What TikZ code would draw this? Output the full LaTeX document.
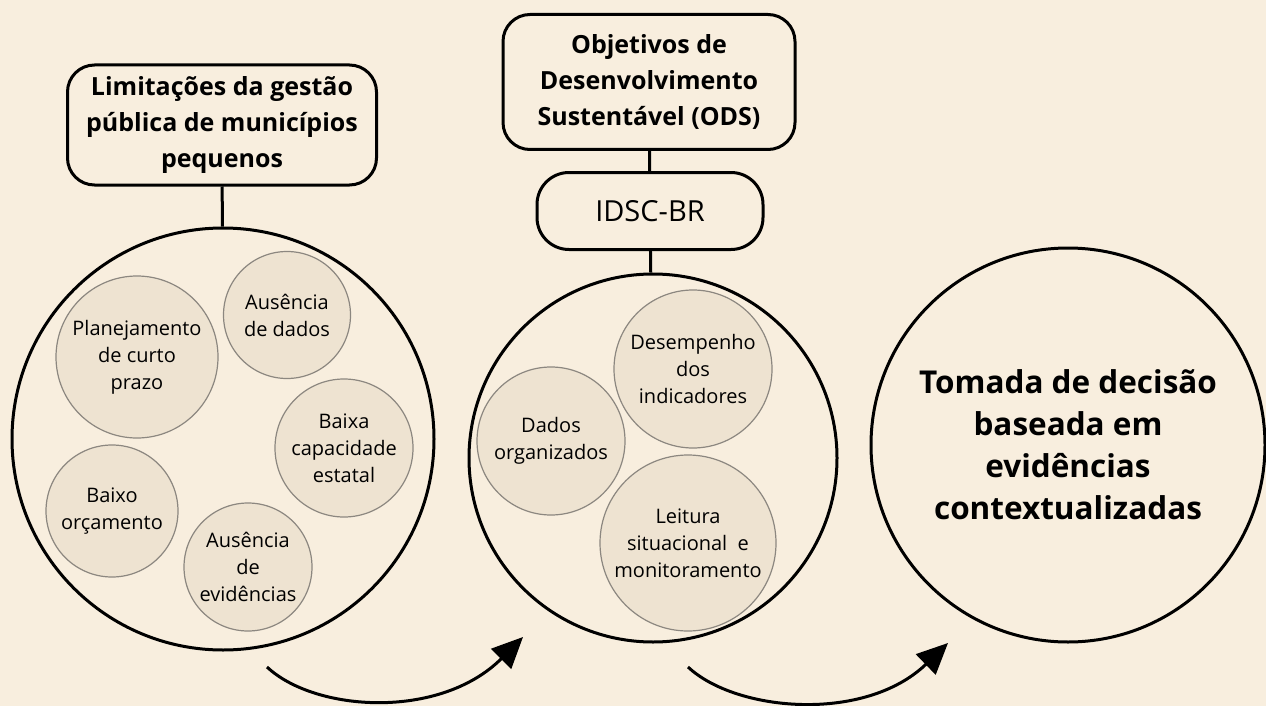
\documentclass[tikz,border=0pt]{standalone}
\usepackage{fontspec}
\setmainfont{Open Sans}
\usetikzlibrary{arrows.meta}
\definecolor{paper}{HTML}{F8EEDE}
\definecolor{bubble}{HTML}{EEE3D1}
\definecolor{rim}{HTML}{8C8780}

\tikzset{
  titlebox/.style={draw, line width=3pt, rounded corners=27pt, align=center,
    font=\fontsize{25}{36}\selectfont\bfseries},
  idbox/.style={draw, line width=3pt, rounded corners=32pt,
    font=\fontsize{29}{34}\selectfont},
  bigcircle/.style={draw, circle, line width=3pt, inner sep=0pt, align=center},
  smallcircle/.style={draw=rim, fill=bubble, circle, line width=1.2pt, inner sep=0pt,
    align=center, font=\fontsize{20}{27}\selectfont},
  link/.style={line width=3pt},
  flow/.style={line width=3pt, -{Triangle[length=31pt,width=28pt]}}
}

\begin{document}
\begin{tikzpicture}[x=1pt, y=-1pt]
      \fill[paper] (0,0) rectangle (1266,706);
      \useasboundingbox (0,0) rectangle (1266,706);
      % bubbles
      \draw
      (137,357) node[smallcircle, minimum size=162pt] (P) {Planejamento\\de curto\\prazo}
      (287,315) node[smallcircle, minimum size=127pt] (AD) {Ausência\\de dados}
      (344,448) node[smallcircle, minimum size=138pt] (BC) {Baixa\\capacidade\\estatal}
      (112,511) node[smallcircle, minimum size=132pt] (BO) {Baixo\\orçamento}
      (248,567) node[smallcircle, minimum size=128pt] (AE) {Ausência\\de\\evidências}
      (551,441) node[smallcircle, minimum size=148pt] (DO) {Dados\\organizados}
      (693,369) node[smallcircle, minimum size=158pt] (DI) {Desempenho\\dos\\indicadores}
      (688,543) node[smallcircle, minimum size=176pt] (LS) {Leitura\\situacional~ e\\monitoramento};
      % boxes, circles and links
      \draw[link]
      (222,125) node[titlebox, minimum width=309pt, minimum height=120pt] (L)
        {Limitações da gestão\\pública de municípios\\pequenos}
      (649,82) node[titlebox, minimum width=292pt, minimum height=135pt] (ODS)
        {Objetivos de\\Desenvolvimento\\Sustentável (ODS)}
      (650,211) node[idbox, minimum width=226pt, minimum height=77pt] (ID) {IDSC-BR}
      (223,439) node[bigcircle, minimum size=422pt] (C1) {}
      (653,458) node[bigcircle, minimum size=368pt] (C2) {}
      (1068,445) node[bigcircle, minimum size=394pt,
        font=\fontsize{31.5}{42}\selectfont\bfseries] (C3)
        {Tomada de decisão\\baseada em\\evidências\\contextualizadas}
      (L) -- (C1)
      (ODS) -- (ID)
      (ID) -- (C2);
      % arrows
      \coordinate (S1) at (267,667);
      \coordinate (E1) at (523,637);
      \coordinate (S2) at (688,667);
      \coordinate (E2) at (948,643);
      \draw[flow] (S1) .. controls +(48,45) and +(-83,83) .. (E1);
      \draw[flow] (S2) .. controls +(48,45) and +(-83,80) .. (E2);
\end{tikzpicture}
\end{document}
